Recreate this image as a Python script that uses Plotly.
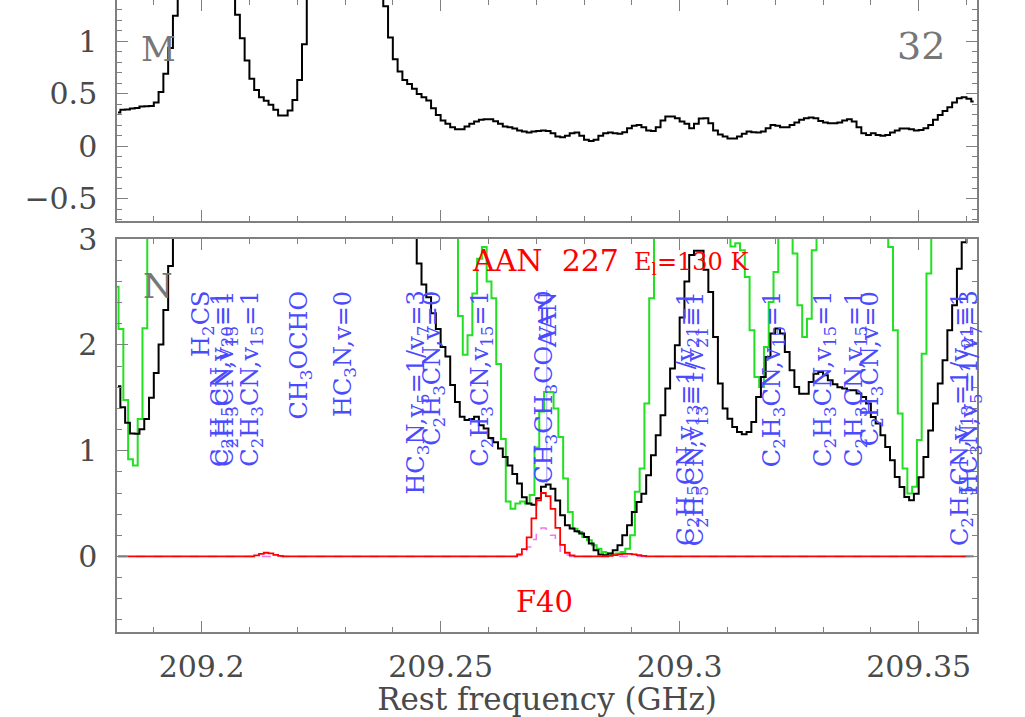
import numpy as np
import plotly.graph_objects as go
from plotly.subplots import make_subplots

# channel grids (GHz), 1 MHz channels
CHAN_WIDTH = 0.001
FIRST_CHAN = 209.1825          # black spectra + models
FIRST_CHAN_GREEN = 209.18213   # green spectrum sits on a shifted grid

# top panel (M), black spectrum; values above 1.39 are off-scale
TOP_BLACK = [
    0.32, 0.346, 0.35, 0.358, 0.364, 0.377, 0.38, 0.383, 0.416, 0.517, 0.689, 0.933, 1.24,
    1.8, 2.6, 3.5, 4.2, 4.6, 4.5, 4.0, 3.4, 2.8, 2.2, 1.8, 1.5,
    1.25, 1.027, 0.815, 0.641, 0.536, 0.467, 0.432, 0.394, 0.346, 0.292, 0.292, 0.34, 0.441, 0.631, 0.97,
    1.6, 2.2, 2.9, 3.6, 4.2, 4.6, 4.8, 4.7, 4.4, 4.0, 3.5, 3.0, 2.5, 2.1, 1.8, 1.55,
    1.33, 1.033, 0.828, 0.71, 0.631, 0.593, 0.546, 0.498, 0.467, 0.434, 0.362, 0.298, 0.244, 0.213,
    0.182, 0.163, 0.163, 0.187, 0.213, 0.235, 0.251, 0.258, 0.258, 0.238, 0.213, 0.187, 0.182, 0.168,
    0.149, 0.14, 0.13, 0.14, 0.146, 0.15,
    0.146, 0.124, 0.092, 0.086, 0.099, 0.124, 0.13, 0.099, 0.061, 0.051, 0.061, 0.099, 0.124, 0.13,
    0.124, 0.118, 0.133, 0.172, 0.194, 0.203, 0.181, 0.149, 0.146, 0.181, 0.244, 0.282, 0.282, 0.266,
    0.235, 0.213, 0.172, 0.213, 0.263, 0.266, 0.219, 0.149, 0.111, 0.092, 0.073, 0.073, 0.092, 0.118,
    0.14, 0.133, 0.13, 0.14, 0.172, 0.203, 0.194, 0.181, 0.181, 0.203, 0.225, 0.251, 0.266, 0.273,
    0.266, 0.241, 0.225, 0.219, 0.219, 0.225, 0.244, 0.257, 0.235, 0.181, 0.124, 0.108, 0.124, 0.108,
    0.099, 0.108, 0.13, 0.149, 0.168, 0.168, 0.162, 0.149, 0.155, 0.172, 0.203, 0.251, 0.298, 0.336,
    0.371, 0.416, 0.457, 0.467, 0.451, 0.425,
]

# bottom panel (N), black spectrum; values above 3 are off-scale
BOTTOM_BLACK = [
    1.608, 1.41, 1.265, 1.163, 1.16, 1.203, 1.30, 1.50, 1.734, 2.005, 2.33, 2.746,
    3.3, 3.8, 4.5, 5.2, 5.8, 6.0, 5.8, 5.3, 4.8, 4.4, 4.1, 3.9, 3.8, 3.8, 3.9, 4.1, 4.4, 4.8, 5.1, 5.2,
    5.0, 4.6, 4.2, 3.9, 3.7, 3.6, 3.6, 3.7, 3.9, 4.2, 4.6, 5.0, 5.3, 5.5, 5.4, 5.1, 4.7, 4.3, 4.0, 3.8,
    3.7, 3.7, 3.8, 3.9, 4.0, 3.9, 3.7, 3.5, 3.3, 3.15, 3.05,
    2.77, 2.57, 2.45, 2.30, 2.15, 1.98, 1.89, 1.62, 1.46, 1.32, 1.29, 1.30, 1.32, 1.24, 1.21, 1.12,
    1.08, 1.02, 0.94, 0.86, 0.78, 0.69, 0.56, 0.50, 0.49, 0.55, 0.66, 0.68,
    0.64, 0.53, 0.39, 0.295, 0.264, 0.238, 0.216, 0.185, 0.122, 0.059, 0.018, 0.012, 0.027, 0.059,
    0.106, 0.2, 0.295, 0.42, 0.515, 0.594, 0.767, 0.957, 1.146, 1.335, 1.587, 1.776, 1.997, 2.26,
    2.6, 2.85, 2.89,
    2.89, 2.71, 2.5, 2.075, 1.634, 1.398, 1.303, 1.225, 1.177, 1.155, 1.177, 1.271, 1.508, 1.697,
    1.886, 2.107, 2.154, 2.107, 1.933, 1.76, 1.603, 1.539, 1.539, 1.65, 1.728, 1.744, 1.713, 1.665,
    1.628, 1.6, 1.587, 1.571, 1.571, 1.54, 1.508, 1.445, 1.319, 1.256, 1.146, 1.035, 0.909, 0.751,
    0.657, 0.563, 0.531, 0.594, 0.75, 0.94, 1.19, 1.445, 1.634, 1.854, 2.138, 2.374, 2.72, 2.97,
    3.1, 3.2,
]

# bottom panel, green spectrum (second dataset)
BOTTOM_GREEN = [
    2.55,
    2.15, 1.48, 0.92, 0.86, 1.30, 2.157,
    3.4, 4.2, 5.0, 5.6, 6.0, 6.1, 5.9, 5.5, 5.0, 4.6, 4.3, 4.1, 4.0, 4.1, 4.3, 4.7, 5.2, 5.6, 5.8,
    5.7, 5.3, 4.8, 4.4, 4.1, 3.9, 3.8, 3.9, 4.1, 4.5, 5.0, 5.5, 5.9, 6.1, 6.0, 5.6, 5.1, 4.6, 4.2,
    3.9, 3.8, 3.8, 3.9, 4.1, 4.4, 4.6, 4.7, 4.6, 4.4, 4.1, 3.9, 3.7, 3.6, 3.5, 3.5, 3.4, 3.3, 3.3,
    3.4, 3.6, 3.7, 3.6, 3.4, 3.3, 3.2, 3.1,
    2.273, 1.908, 2.091, 2.485, 2.815, 2.926, 2.6, 2.44, 1.82, 1.11, 0.52, 0.45, 0.5, 0.52, 0.5,
    0.58, 1.03, 1.37, 1.555, 1.555, 1.4, 1.13, 0.736, 0.421, 0.263, 0.232, 0.185, 0.153, 0.106,
    0.074, 0.043, 0.027, 0.021, 0.027, 0.043, 0.074, 0.2, 0.611, 0.831, 1.445, 2.44,
    3.3, 3.9, 4.4, 4.8, 5.0, 4.9, 4.6, 4.2, 3.9, 3.6, 3.4, 3.3, 3.2, 3.1, 3.05, 3.02,
    2.93, 2.96, 2.894, 2.642, 2.138, 1.697, 1.603, 1.98, 2.406, 2.69,
    3.1, 3.2, 3.05,
    2.863, 2.374, 2.075, 2.248, 2.894,
    3.2, 3.6, 4.0, 4.3, 4.5, 4.6, 4.5, 4.3, 4.0, 3.8, 3.6, 3.4, 3.3, 3.15, 3.05,
    2.926, 2.138, 1.351, 0.832, 0.595, 0.658, 1.1, 1.917, 2.674,
    3.3, 3.8, 4.2, 4.5, 4.6, 4.5, 4.3, 4.1, 3.9, 3.7,
]

# models on the black grid (red = total, violet dashed = AAN alone)
MODEL_RED = ([0.0] * 29 + [0.01, 0.025, 0.035, 0.03, 0.015, 0.005] + [0.0] * 49
             + [0.02, 0.07, 0.18, 0.36, 0.53, 0.6, 0.57, 0.45, 0.27, 0.11, 0.035, 0.01]
             + [0.0] * 7 + [0.005, 0.012, 0.02, 0.025, 0.025, 0.02, 0.012, 0.005] + [0.0] * 69)
MODEL_PINK = ([0.0] * 84
              + [0.01, 0.04, 0.09, 0.16, 0.23, 0.27, 0.26, 0.2, 0.12, 0.05, 0.015, 0.0]
              + [0.0] * 84)

# line identifications (GHz)
LINE_NAMES = [
    "H<sub>2</sub>CS",
    "C<sub>2</sub>H<sub>5</sub>CN,v<sub>20</sub>=1",
    "C<sub>2</sub>H<sub>3</sub>CN,v<sub>15</sub>=1",
    "C<sub>2</sub>H<sub>3</sub>CN,v<sub>15</sub>=1",
    "CH<sub>3</sub>OCHO",
    "HC<sub>3</sub>N,v=0",
    "HC<sub>3</sub>N,v<sub>5</sub>=1/v<sub>7</sub>=3",
    "C<sub>2</sub>H<sub>3</sub>CN,v=0",
    "C<sub>2</sub>H<sub>3</sub>CN,v<sub>15</sub>=1",
    "CH<sub>3</sub>CH<sub>3</sub>CO,v=0",
    "AAN",
    "C<sub>2</sub>H<sub>5</sub>CN,v<sub>13</sub>=1/v<sub>21</sub>=1",
    "C<sub>2</sub>H<sub>5</sub>CN,v<sub>13</sub>=1/v<sub>21</sub>=1",
    "C<sub>2</sub>H<sub>3</sub>CN,v<sub>15</sub>=1",
    "C<sub>2</sub>H<sub>3</sub>CN,v<sub>15</sub>=1",
    "C<sub>2</sub>H<sub>3</sub>CN,v<sub>15</sub>=1",
    "C<sub>2</sub>H<sub>3</sub>CN,v=0",
    "C<sub>2</sub>H<sub>5</sub>CN,v<sub>13</sub>=1/v<sub>21</sub>=1",
    "HC<sub>3</sub>N,v<sub>5</sub>=1/v<sub>7</sub>=3",
]
LINE_FREQS = [
    209.2003, 209.2043, 209.2053, 209.2105, 209.2206, 209.2300, 209.2452, 209.2485,
    209.2586, 209.2719, 209.2726, 209.3016, 209.3034, 209.3198, 209.3304, 209.3369,
    209.3402, 209.3590, 209.3609,
]
LABEL_TOP = 2.52
AAN_FREQ = 209.2722
AAN_MARK = [0.69, 2.52]

X_TICKS = [209.2, 209.25, 209.3, 209.35]
X_TICKTEXT = ["209.2", "209.25", "209.3", "209.35"]

FONT = "DejaVu Serif"
AX_COLOR = "#808080"
TXT_COLOR = "#4a4a4a"

freq = FIRST_CHAN + CHAN_WIDTH * np.arange(len(TOP_BLACK))
freq_green = FIRST_CHAN_GREEN + CHAN_WIDTH * np.arange(len(BOTTOM_GREEN))

fig = make_subplots(rows=2, cols=1, shared_xaxes=False)

fig.add_trace(go.Scatter(x=freq, y=TOP_BLACK, mode="lines", line_shape="hvh",
                         line=dict(color="black", width=2)), row=1, col=1)
fig.add_trace(go.Scatter(x=freq_green, y=BOTTOM_GREEN, mode="lines", line_shape="hvh",
                         line=dict(color="#22e022", width=2)), row=2, col=1)
fig.add_trace(go.Scatter(x=freq, y=BOTTOM_BLACK, mode="lines", line_shape="hvh",
                         line=dict(color="black", width=2)), row=2, col=1)
fig.add_trace(go.Scatter(x=freq, y=MODEL_PINK, mode="lines", line_shape="hvh",
                         line=dict(color="#ee77ee", width=1.5, dash="dash")), row=2, col=1)
fig.add_trace(go.Scatter(x=freq, y=MODEL_RED, mode="lines", line_shape="hvh",
                         line=dict(color="#ff0000", width=1.8)), row=2, col=1)

# AAN transition marker
fig.add_shape(type="line", xref="x2", yref="y2", x0=AAN_FREQ, x1=AAN_FREQ,
              y0=AAN_MARK[0], y1=AAN_MARK[1], line=dict(color="#a0a0ff", width=1))

for name, f in zip(LINE_NAMES, LINE_FREQS):
    fig.add_annotation(x=f, y=LABEL_TOP, xref="x2", yref="y2", text=name, textangle=-90,
                       showarrow=False, xanchor="center", yanchor="top", borderpad=0,
                       font=dict(family=FONT, size=24, color="#4a4aff"))

# panel labels
fig.add_annotation(x=209.1909, y=0.92, xref="x", yref="y", text="M", showarrow=False,
                   font=dict(family=FONT, size=34, color="#777777"))
fig.add_annotation(x=209.3504, y=0.95, xref="x", yref="y", text="32", showarrow=False,
                   font=dict(family=FONT, size=38, color="#777777"))
fig.add_annotation(x=209.1909, y=2.56, xref="x2", yref="y2", text="N", showarrow=False,
                   font=dict(family=FONT, size=34, color="#777777"))
fig.add_annotation(x=209.2720, y=2.80, xref="x2", yref="y2", text="AAN  227", showarrow=False,
                   font=dict(family=FONT, size=30, color="#ff0000"))
fig.add_annotation(x=209.3025, y=2.77, xref="x2", yref="y2", text="E<sub>l</sub>=130 K",
                   showarrow=False, font=dict(family=FONT, size=24, color="#ff0000"))
fig.add_annotation(x=209.2717, y=-0.43, xref="x2", yref="y2", text="F40", showarrow=False,
                   font=dict(family=FONT, size=29, color="#ff0000"))

xrange = [209.1823, 209.3622]
xcommon = dict(range=xrange, tickmode="array", tickvals=X_TICKS, ticktext=X_TICKTEXT,
               ticks="inside", ticklen=11, tickcolor=AX_COLOR, tickwidth=1.3,
               minor=dict(tickmode="linear", tick0=209.2, dtick=0.01, ticks="inside",
                          ticklen=5, tickcolor=AX_COLOR),
               showline=True, linecolor=AX_COLOR, linewidth=1.5, mirror="ticks",
               showgrid=False, zeroline=False, automargin=False,
               tickfont=dict(family=FONT, size=30, color=TXT_COLOR))
ycommon = dict(ticks="inside", ticklen=11, tickcolor=AX_COLOR, tickwidth=1.3,
               showline=True, linecolor=AX_COLOR, linewidth=1.5, mirror="ticks",
               showgrid=False, zeroline=False, ticklabelstandoff=12, automargin=False,
               tickfont=dict(family=FONT, size=30, color=TXT_COLOR))

fig.update_layout(
    width=1025, height=717,
    margin=dict(l=117, r=48, t=0, b=85, autoexpand=False),
    paper_bgcolor="white", plot_bgcolor="white",
    showlegend=False,
    xaxis=dict(xcommon, domain=[0, 1], showticklabels=False, anchor="y"),
    xaxis2=dict(xcommon, domain=[0, 1], anchor="y2", ticklabelstandoff=7,
                title=dict(text="Rest frequency (GHz)", standoff=4,
                           font=dict(family=FONT, size=31, color=TXT_COLOR))),
    yaxis=dict(ycommon, domain=[0.6503, 1], range=[-0.71, 1.39], tickmode="array",
               tickvals=[-0.5, 0, 0.5, 1],
               minor=dict(tickmode="linear", tick0=0, dtick=0.1, ticks="inside",
                          ticklen=5, tickcolor=AX_COLOR)),
    yaxis2=dict(ycommon, domain=[0, 0.6218], range=[-0.714, 3.001], tickmode="array",
                tickvals=[0, 1, 2, 3],
                minor=dict(tickmode="linear", tick0=0, dtick=0.2, ticks="inside",
                           ticklen=5, tickcolor=AX_COLOR)),
)

# the page body has a default 8px margin; drop it so the figure fills the window
fig.write_html("out.html", config={"displayModeBar": False},
               post_script="document.body.style.margin='0px';")
